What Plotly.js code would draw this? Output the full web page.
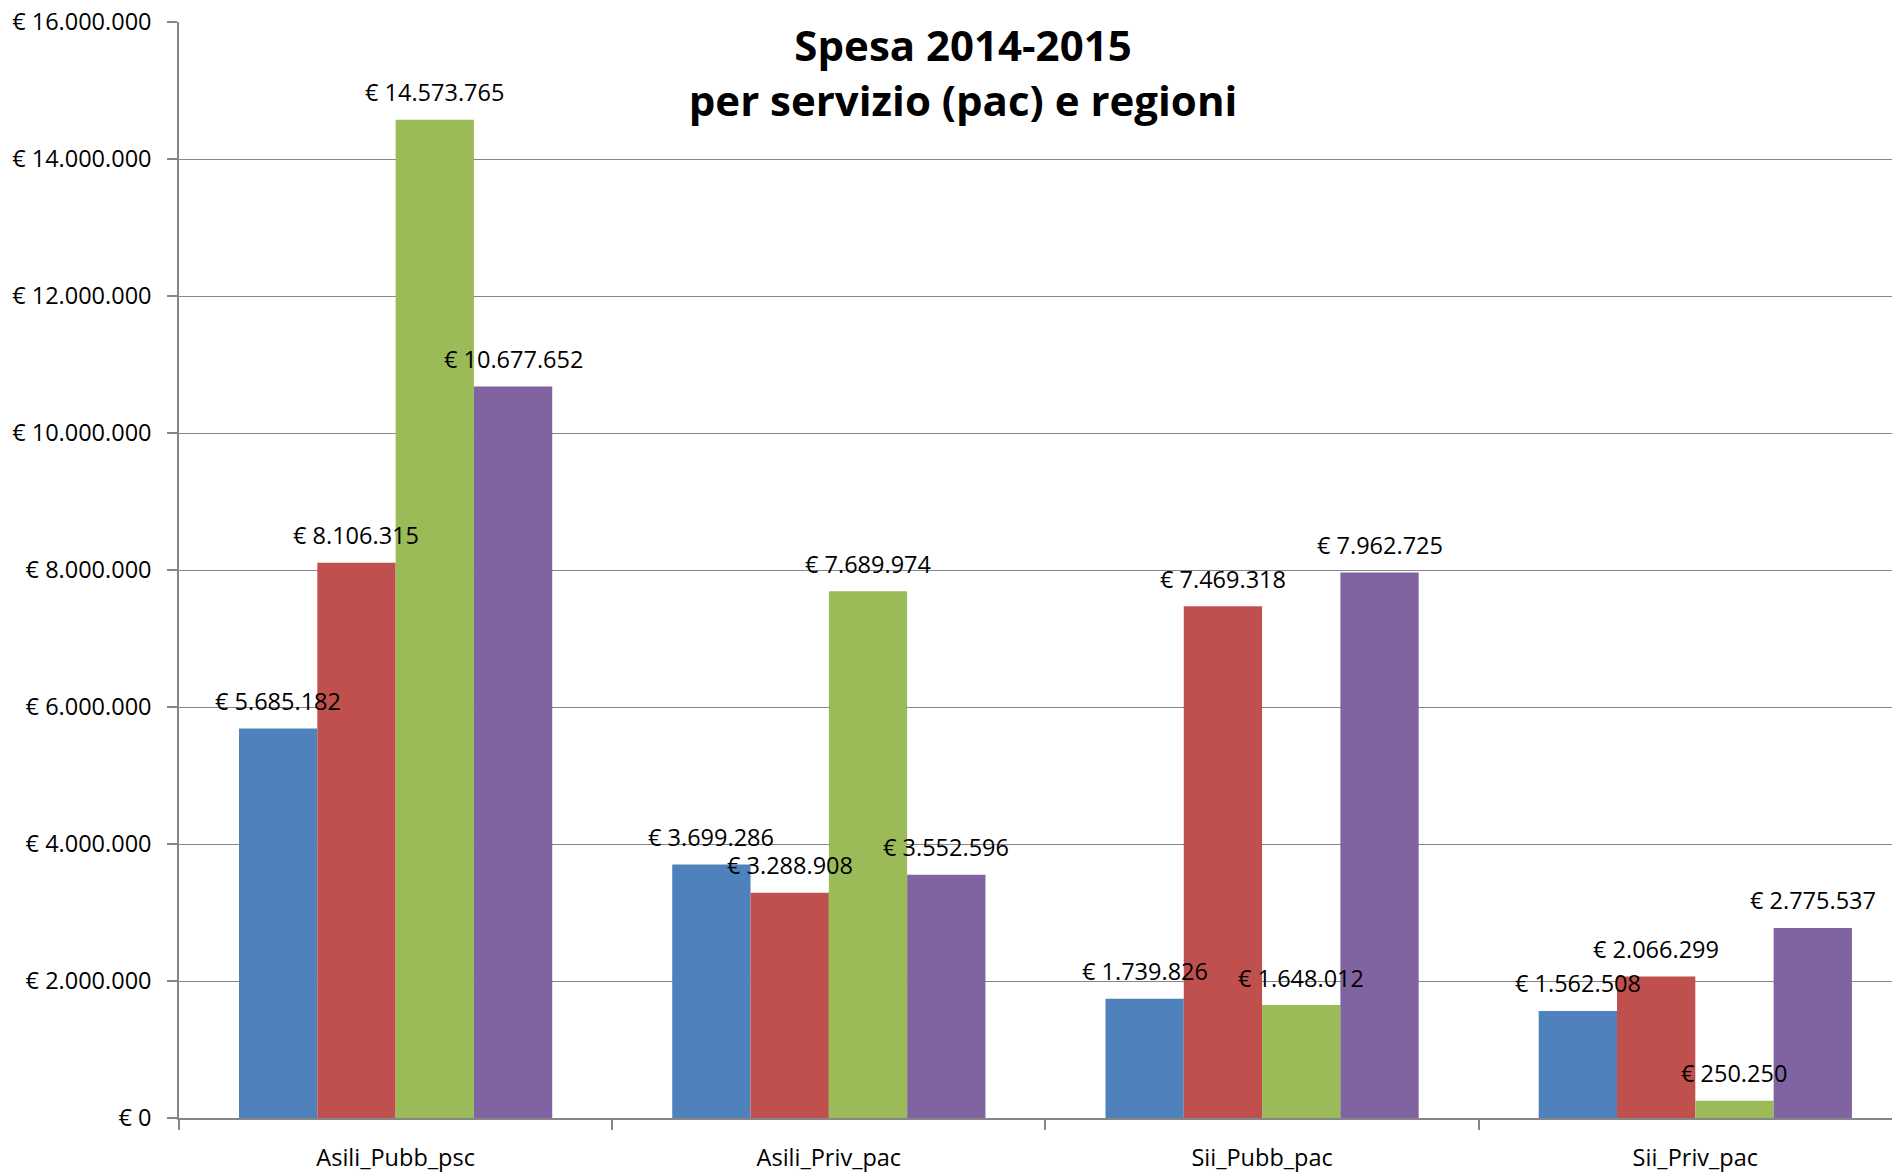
<!DOCTYPE html>
<html>
<head>
<meta charset="utf-8">
<script src="https://cdn.plot.ly/plotly-3.0.1.min.js"></script>
<style>
  html, body { margin: 0; padding: 0; background: #ffffff; }
  #chart { width: 1892px; height: 1175px; }
</style>
</head>
<body>
<div id="chart"></div>
<script>
// ---- data ----
const categories = ["Asili_Pubb_psc", "Asili_Priv_pac", "Sii_Pubb_pac", "Sii_Priv_pac"];
const seriesNames = ["Serie 1", "Serie 2", "Serie 3", "Serie 4"];
const serie1 = [5685182, 3699286, 1739826, 1562508];
const serie2 = [8106315, 3288908, 7469318, 2066299];
const serie3 = [14573765, 7689974, 1648012, 250250];
const serie4 = [10677652, 3552596, 7962725, 2775537];
const yTickValues = [0, 2000000, 4000000, 6000000, 8000000, 10000000, 12000000, 14000000, 16000000];
const chartTitle = "Spesa 2014-2015<br>per servizio (pac) e regioni";

// ---- styles ----
const colors = ["#4F81BD", "#C0504D", "#9BBB59", "#8064A2"];
const FONT = "Open Sans, Noto Sans, sans-serif";
const barPx = 78.3;

function fmt(v) {
  return "\u20AC " + String(v).replace(/\B(?=(\d{3})+(?!\d))/g, ".");
}

const allSeries = [serie1, serie2, serie3, serie4];
const traces = allSeries.map((vals, i) => ({
  type: "bar",
  name: seriesNames[i],
  x: categories,
  y: vals,
  marker: { color: colors[i], line: { width: 0 } },
  hoverinfo: "x+y+name"
}));

const annotations = [];
allSeries.forEach((vals, i) => {
  vals.forEach((v, j) => {
    annotations.push({
      x: categories[j], y: v, xref: "x", yref: "y",
      text: fmt(v), showarrow: false,
      xanchor: "center", yanchor: "middle",
      xshift: (i - 1.5) * barPx, yshift: 27.6,
      font: { family: FONT, size: 23.5, color: "#000000" }
    });
  });
});

const layout = {
  width: 1892, height: 1175,
  paper_bgcolor: "#ffffff", plot_bgcolor: "#ffffff",
  margin: { l: 179, r: 0, t: 22, b: 57, pad: 0 },
  separators: ",.",
  showlegend: false,
  barmode: "group",
  bargap: 0.277,
  bargroupgap: 0,
  font: { family: FONT, size: 23.5, color: "#000000" },
  title: {
    text: chartTitle,
    font: { family: FONT, size: 42, color: "#000000", weight: "bold" },
    x: 0.509, xanchor: "center", xref: "container",
    y: 1 - 61 / 1175, yanchor: "top", yref: "container"
  },
  xaxis: {
    type: "category",
    range: [-0.5, 3.454],
    showline: true, linecolor: "#868686", linewidth: 1.5,
    showgrid: false, zeroline: false,
    ticks: "outside", tickson: "boundaries", ticklen: 10, tickcolor: "#868686", tickwidth: 1.5,
    ticklabelstandoff: 18,
    tickfont: { family: FONT, size: 23.5, color: "#000000" }
  },
  yaxis: {
    range: [0, 16000000],
    tickmode: "array",
    tickvals: yTickValues,
    ticktext: yTickValues.map(fmt),
    showline: true, linecolor: "#868686", linewidth: 1.5,
    showgrid: true, gridcolor: "#868686", gridwidth: 1.3,
    zeroline: false,
    ticks: "outside", ticklen: 10, tickcolor: "#868686", tickwidth: 1.5,
    ticklabelstandoff: 11,
    tickfont: { family: FONT, size: 23.5, color: "#000000" }
  },
  annotations: annotations
};

Plotly.newPlot("chart", traces, layout, { displayModeBar: false, responsive: false });
</script>
</body>
</html>
